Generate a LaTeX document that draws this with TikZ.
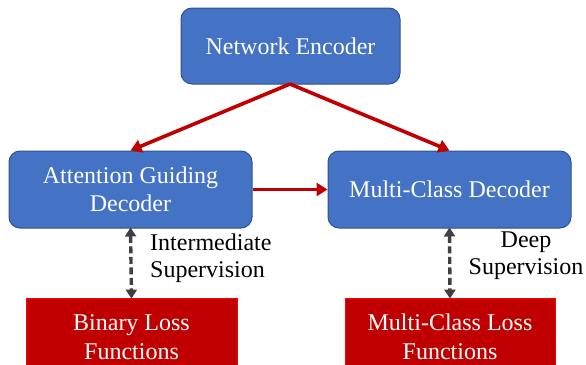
\documentclass[tikz,border=0pt]{standalone}
\usepackage{fontspec}
\setmainfont{Liberation Serif}
\usetikzlibrary{arrows.meta}
\definecolor{boxblue}{HTML}{4472C4}
\definecolor{boxblueedge}{HTML}{2F528F}
\definecolor{lossred}{HTML}{C00000}
\definecolor{lossedge}{HTML}{FF0000}
\definecolor{arrowgray}{HTML}{404040}
\tikzset{
  bluebox/.style={draw=boxblueedge, line width=1pt, fill=boxblue, rounded corners=11pt,
    text=white, align=center, inner sep=0pt, font=\fontsize{24}{28}\selectfont},
  redbox/.style={draw=lossedge, line width=0.8pt, fill=lossred,
    text=white, align=center, inner sep=0pt, font=\fontsize{24}{29}\selectfont},
  flow/.style={draw=lossred, line width=3.6pt, -{Triangle[length=11pt,width=13pt]}},
  superv/.style={draw=arrowgray, line width=3.4pt, dash pattern=on 7pt off 3.5pt,
    {Triangle[length=9pt,width=11pt]}-{Triangle[length=9pt,width=11pt]}},
  lbl/.style={font=\fontsize{24}{27}\selectfont, align=left, inner sep=0pt}
}
\begin{document}
\begin{tikzpicture}[x=1pt,y=-1pt]
\useasboundingbox (0,0) rectangle (586,364);
\clip (0,0) rectangle (586,364);
\node[bluebox, minimum width=219pt, minimum height=76pt] (enc) at (290.5,46) {Network Encoder};
\node[bluebox, minimum width=243pt, minimum height=77pt] (agd) at (130.5,189.5) {Attention Guiding\\Decoder};
\node[bluebox, minimum width=243pt, minimum height=77pt] (mcd) at (449.5,189.5) {Multi-Class Decoder};
\node[redbox, minimum width=211pt, minimum height=78pt] (bin) at (131.5,337) {Binary Loss\\Functions};
\node[redbox, minimum width=210pt, minimum height=78pt] (mcl) at (450,337) {Multi-Class Loss\\Functions};
\coordinate (encb) at (290,84);
\draw[flow] (encb) -- (agd.north);
\draw[flow] (encb) -- (mcd.north);
\draw[flow] (agd.east) -- (mcd.west);
\draw[superv] ([yshift=1pt]agd.south) -- ([yshift=-1pt]bin.north);
\draw[superv] ([yshift=1pt]mcd.south) -- ([yshift=-1pt]mcl.north);
\node[lbl, anchor=west] (ilbl) at (150,258) {Intermediate\\Supervision};
\node[lbl, anchor=center, align=center] (dlbl) at (526,256) {Deep\\Supervision};
\end{tikzpicture}
\end{document}
